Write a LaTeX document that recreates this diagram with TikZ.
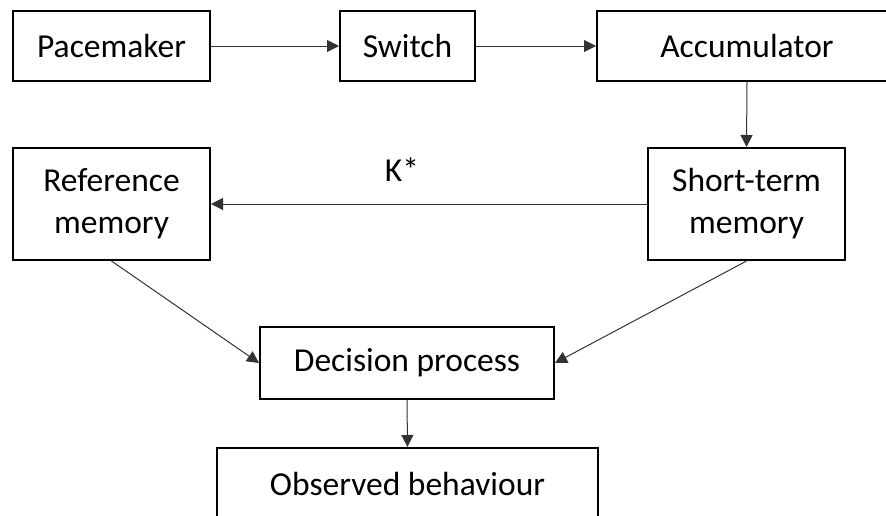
\documentclass[tikz,border=0pt]{standalone}
\usepackage{fontspec}
\setmainfont{Carlito}
\usetikzlibrary{arrows.meta}
\begin{document}
\begin{tikzpicture}[x=1pt,y=-1pt,
  box/.style={draw=black, line width=2pt, inner sep=0pt, align=center, font=\fontsize{33.5}{42}\selectfont},
  conn/.style={draw=black!80, line width=1pt, -{Triangle[length=12pt,width=12pt]}},
  lbl/.style={font=\fontsize{33.5}{42}\selectfont}]
\useasboundingbox (0,0) rectangle (886,515);
\clip (0,0) rectangle (886,515);
\node[box, minimum width=197pt, minimum height=70pt] (pace) at (111.5,46) {Pacemaker};
\node[box, minimum width=135pt, minimum height=70pt] (sw) at (407.5,46) {Switch};
\node[box, minimum width=300pt, minimum height=70pt] (acc) at (747,46) {Accumulator};
\node[box, minimum width=197pt, minimum height=112pt] (ref) at (111.5,204) {Reference\\memory};
\node[box, minimum width=197pt, minimum height=112pt] (stm) at (746.5,204) {Short-term\\memory};
\node[box, minimum width=294pt, minimum height=72pt] (dec) at (407,363) {Decision process};
\node[box, minimum width=381pt, minimum height=72pt] (obs) at (407.5,484) {Observed behaviour};
\node[lbl] (k) at (402,170) {K*};
\draw[conn] (pace.east) -- (sw.west);
\draw[conn] (sw.east) -- (acc.west);
\draw[conn] (acc.south) -- (stm.north);
\draw[conn] (stm.west) -- (ref.east);
\draw[conn] (ref.south) -- (dec.west);
\draw[conn] (stm.south) -- (dec.east);
\draw[conn] (dec.south) -- (obs.north);
\end{tikzpicture}
\end{document}
